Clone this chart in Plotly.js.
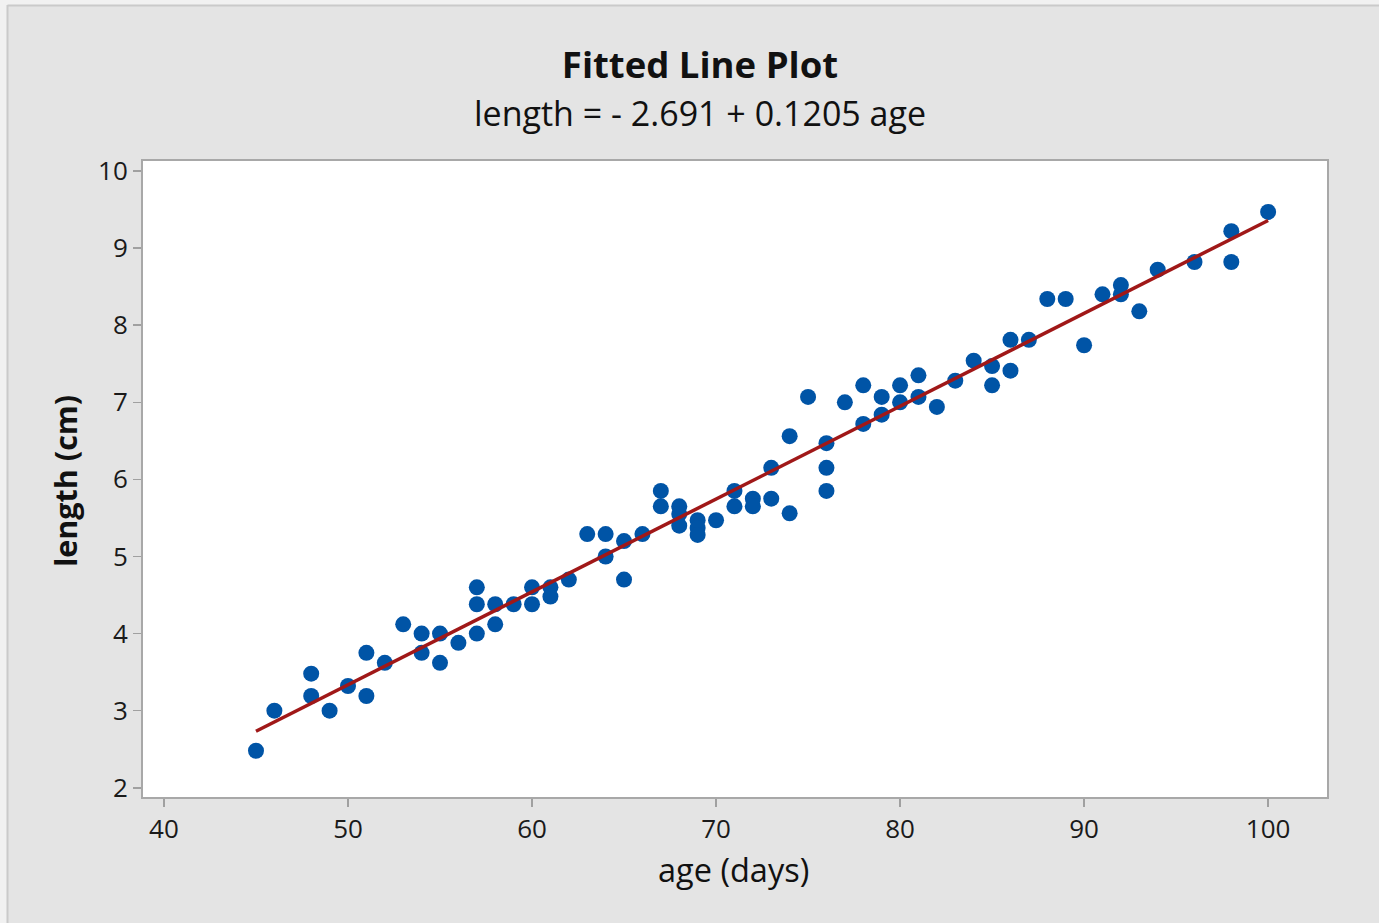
<!DOCTYPE html>
<html>
<head>
<meta charset="utf-8">
<script src="https://cdn.plot.ly/plotly-3.0.1.min.js"></script>
<style>
  html, body { margin: 0; padding: 0; background: #E4E4E4; }
  #chart { width: 1379px; height: 923px; }
</style>
</head>
<body>
<div id="chart"></div>
<script>
// ---- data ----
const ages = [45,46,48,48,49,50,51,51,52,53,54,54,55,55,56,57,57,57,58,58,59,60,60,61,61,62,63,64,64,65,65,66,67,67,68,68,68,69,69,69,70,71,71,72,72,73,73,74,74,75,76,76,76,77,78,78,79,79,80,80,81,81,82,83,84,85,85,86,86,87,88,89,90,91,92,92,93,94,96,98,98,100];
const lengths = [2.48,3.0,3.48,3.19,3.0,3.32,3.75,3.19,3.62,4.12,4.0,3.75,4.0,3.62,3.88,4.6,4.38,4.0,4.38,4.12,4.38,4.6,4.38,4.6,4.48,4.7,5.29,5.29,5.0,5.2,4.7,5.29,5.85,5.65,5.65,5.55,5.4,5.47,5.37,5.28,5.47,5.85,5.65,5.75,5.65,6.15,5.75,6.56,5.56,7.07,6.47,6.15,5.85,7.0,7.22,6.72,7.07,6.84,7.22,7.0,7.35,7.07,6.94,7.28,7.54,7.47,7.22,7.81,7.41,7.81,8.34,8.34,7.74,8.4,8.52,8.4,8.18,8.72,8.82,9.22,8.82,9.47];
const fitX = [45, 100];
const fitY = [2.733, 9.359];
const xTicks = [40, 50, 60, 70, 80, 90, 100];
const yTicks = [2, 3, 4, 5, 6, 7, 8, 9, 10];
const titleText = 'Fitted Line Plot';
const subtitleText = 'length = - 2.691 + 0.1205 age';
const xTitle = 'age (days)';
const yTitle = 'length (cm)';

// ---- layout helpers (pixel -> paper) ----
const W = 1379, H = 923;
const M = { l: 143, r: 52, t: 161, b: 126 };
const PW = W - M.l - M.r, PH = H - M.t - M.b;
const px = x => (x - M.l) / PW;
const py = y => (H - M.b - y) / PH;

const FONT = '"Open Sans", "Noto Sans", sans-serif';

const traces = [
  {
    x: ages, y: lengths, type: 'scatter', mode: 'markers',
    marker: { color: '#0054A6', size: 16, line: { width: 0 } },
    hoverinfo: 'x+y', showlegend: false
  },
  {
    x: fitX, y: fitY, type: 'scatter', mode: 'lines',
    line: { color: '#A01818', width: 3.5 },
    hoverinfo: 'skip', showlegend: false
  }
];

const axisCommon = {
  showgrid: false, zeroline: false,
  showline: true, linecolor: '#A8A8A8', linewidth: 2, mirror: true,
  ticks: 'outside', ticklen: 8, tickwidth: 1.5, tickcolor: '#A0A0A0',
  tickfont: { family: FONT, size: 26, color: '#1A1A1A' },
  fixedrange: true
};

const layout = {
  width: W, height: H,
  margin: M,
  paper_bgcolor: '#E4E4E4',
  plot_bgcolor: '#FFFFFF',
  font: { family: FONT, color: '#111111' },
  title: {
    text: '<b>' + titleText + '</b>',
    font: { family: FONT, size: 36.5, color: '#111111' },
    xref: 'container', yref: 'container',
    x: 700 / W, xanchor: 'center',
    y: 1 - 65 / H, yanchor: 'middle'
  },
  xaxis: Object.assign({}, axisCommon, {
    range: [38.86, 103.2], tickmode: 'array', tickvals: xTicks, ticktext: xTicks.map(String)
  }),
  yaxis: Object.assign({}, axisCommon, {
    range: [1.88, 10.13], tickmode: 'array', tickvals: yTicks, ticktext: yTicks.map(String)
  }),
  annotations: [
    { text: subtitleText, xref: 'paper', yref: 'paper', x: px(700), y: py(113),
      xanchor: 'center', yanchor: 'middle', showarrow: false,
      font: { family: FONT, size: 34, color: '#111111' } },
    { text: xTitle, xref: 'paper', yref: 'paper', x: px(733), y: py(869),
      xanchor: 'center', yanchor: 'middle', showarrow: false,
      font: { family: FONT, size: 32.5, color: '#111111' } },
    { text: '<b>' + yTitle + '</b>', xref: 'paper', yref: 'paper', x: px(65), y: py(481),
      xanchor: 'center', yanchor: 'middle', showarrow: false, textangle: -90,
      font: { family: FONT, size: 30.5, color: '#111111' } }
  ],
  shapes: [
    { type: 'line', xref: 'paper', yref: 'paper', x0: px(3.5), x1: px(3.5), y0: py(0), y1: py(H),
      line: { color: '#F1F1F1', width: 7 } },
    { type: 'line', xref: 'paper', yref: 'paper', x0: px(0), x1: px(W), y0: py(2.5), y1: py(2.5),
      line: { color: '#F1F1F1', width: 5 } },
    { type: 'line', xref: 'paper', yref: 'paper', x0: px(7.5), x1: px(7.5), y0: py(5), y1: py(H),
      line: { color: '#CACACA', width: 2 } },
    { type: 'line', xref: 'paper', yref: 'paper', x0: px(7.5), x1: px(W), y0: py(5.5), y1: py(5.5),
      line: { color: '#CACACA', width: 2 } }
  ]
};

Plotly.newPlot('chart', traces, layout, { displayModeBar: false, staticPlot: true });
</script>
</body>
</html>
